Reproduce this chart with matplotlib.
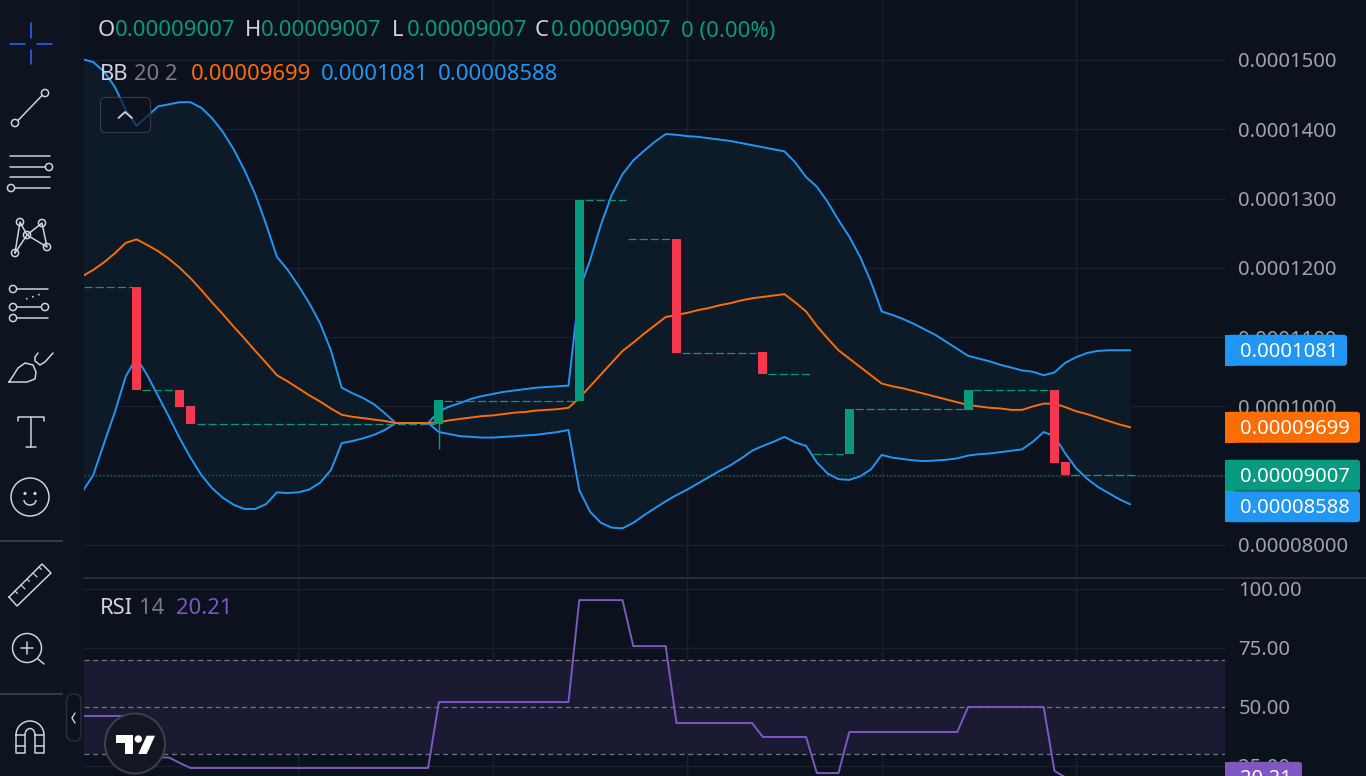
import matplotlib
matplotlib.use("Agg")
import matplotlib.pyplot as plt
from matplotlib.patches import Circle, FancyBboxPatch, Polygon, Rectangle, Arc

plt.rcParams['font.family'] = ['Noto Sans', 'DejaVu Sans']

W, H = 1366, 776
BG = '#0b111d'
TOOLBAR_BG = '#0c1420'
GRID = '#1a212d'
BAND_FILL = '#0d1a28'
RSI_FILL = '#1a1b32'
GREEN = '#089981'
RED = '#f7374b'
BLUE = '#2196f3'
ORANGE = '#ff6d00'
PURPLE = '#7e57c2'
TEXT = '#d1d4dc'
MUTED = '#787b86'
AXIS_TEXT = '#a0a3ad'
ICON = '#d1d4dc'

# prices below are in units of 0.00001
bar_index = list(range(-5, 93))

upper_band = [
    15.01, 14.97, 14.83, 14.61, 14.28, 14.05, 14.19, 14.33, 14.36, 14.39,
    14.39, 14.31, 14.16, 13.96, 13.71, 13.41, 13.06, 12.63, 12.16, 11.97,
    11.74, 11.49, 11.20, 10.81, 10.27, 10.19, 10.12, 10.03, 9.90, 9.76,
    9.76, 9.76, 9.76, 9.93, 10.00, 10.05, 10.11, 10.15, 10.18, 10.21,
    10.23, 10.25, 10.27, 10.28, 10.29, 10.30, 11.68, 12.11, 12.62, 13.05,
    13.35, 13.55, 13.69, 13.82, 13.93, 13.92, 13.90, 13.89, 13.87, 13.85,
    13.83, 13.80, 13.77, 13.74, 13.71, 13.68, 13.52, 13.31, 13.17, 12.95,
    12.69, 12.45, 12.16, 11.80, 11.37, 11.32, 11.26, 11.19, 11.11, 11.03,
    10.93, 10.83, 10.73, 10.69, 10.65, 10.60, 10.56, 10.52, 10.50, 10.45,
    10.49, 10.63, 10.71, 10.77, 10.80, 10.81, 10.81, 10.81,
]

middle_band = [
    11.88, 11.97, 12.08, 12.21, 12.36, 12.41, 12.33, 12.24, 12.13, 12.00,
    11.85, 11.68, 11.50, 11.33, 11.15, 10.98, 10.80, 10.63, 10.45, 10.36,
    10.26, 10.16, 10.07, 9.97, 9.88, 9.85, 9.83, 9.81, 9.79, 9.76,
    9.76, 9.76, 9.76, 9.77, 9.80, 9.82, 9.84, 9.86, 9.87, 9.89,
    9.91, 9.92, 9.94, 9.95, 9.96, 9.98, 10.12, 10.29, 10.46, 10.63,
    10.80, 10.92, 11.05, 11.17, 11.29, 11.32, 11.35, 11.39, 11.42, 11.46,
    11.49, 11.53, 11.56, 11.58, 11.60, 11.62, 11.50, 11.37, 11.16, 10.98,
    10.81, 10.69, 10.57, 10.45, 10.33, 10.29, 10.26, 10.22, 10.18, 10.14,
    10.10, 10.06, 10.02, 10.00, 9.98, 9.97, 9.95, 9.95, 10.00, 10.04,
    10.04, 9.99, 9.93, 9.89, 9.84, 9.79, 9.74, 9.699,
]

lower_band = [
    8.77, 9.01, 9.47, 9.92, 10.43, 10.70, 10.45, 10.15, 9.85, 9.54,
    9.26, 9.01, 8.82, 8.68, 8.58, 8.52, 8.52, 8.59, 8.76, 8.75,
    8.76, 8.80, 8.90, 9.08, 9.47, 9.50, 9.54, 9.59, 9.66, 9.76,
    9.76, 9.76, 9.76, 9.63, 9.60, 9.57, 9.56, 9.55, 9.55, 9.56,
    9.57, 9.58, 9.59, 9.61, 9.63, 9.66, 8.79, 8.48, 8.32, 8.25,
    8.24, 8.32, 8.43, 8.53, 8.63, 8.72, 8.80, 8.89, 8.98, 9.07,
    9.15, 9.25, 9.36, 9.43, 9.49, 9.56, 9.48, 9.43, 9.19, 9.03,
    8.95, 8.94, 8.99, 9.09, 9.30, 9.26, 9.24, 9.22, 9.21, 9.22,
    9.23, 9.25, 9.29, 9.31, 9.32, 9.34, 9.36, 9.38, 9.49, 9.63,
    9.57, 9.32, 9.11, 8.96, 8.84, 8.75, 8.66, 8.588,
]

# candles that actually traded
candle_index = [0, 4, 5, 28, 41, 50, 58, 66, 77, 85, 86]
candle_open = [11.72, 10.24, 10.00, 9.75, 10.08, 12.42, 10.78, 9.31, 9.95, 10.24, 9.20]
candle_close = [10.24, 9.99, 9.75, 10.09, 12.98, 10.77, 10.47, 9.96, 10.24, 9.18, 9.007]

wick_index = [28]
wick_low = [9.38]
wick_high = [10.09]

# dashed close-to-open connectors: start bar, end bar, price
connector_start = [-4.86, 0.5, 5.6, 28.5, 41.5, 45.5, 50.5, 58.5, 62.6, 66.5, 77.5, 86.5]
connector_end = [-0.4, 3.5, 27.6, 40.5, 45.3, 49.4, 57.4, 62.4, 65.5, 76.5, 84.5, 92.4]
connector_price = [11.72, 10.24, 9.75, 10.08, 12.98, 12.42, 10.77, 10.47, 9.31, 9.96, 10.24, 9.007]

last_price = 9.007

price_ticks = [8, 9, 10, 11, 12, 13, 14, 15]
price_labels = ['0.00008000', '0.00009000', '0.0001000', '0.0001100',
                '0.0001200', '0.0001300', '0.0001400', '0.0001500']

rsi_index = [-5, -1, 0, 3, 4, 5, 27, 28, 40, 41, 45, 46, 49, 50, 57, 58, 62, 63, 65, 66, 76, 77, 84, 85, 86]
rsi_values = [46.2, 46.2, 28.6, 28.6, 26.3, 24.15, 24.15, 52.1, 52.1, 95.3, 95.3, 75.8, 75.8,
              43.2, 43.2, 37.3, 37.3, 22.0, 22.0, 39.4, 39.4, 50.0, 50.0, 22.9, 20.21]
rsi_ticks = [25, 50, 75, 100]
rsi_tick_labels = ['25.00', '50.00', '75.00', '100.00']
rsi_levels = [30, 50, 70]

grid_bars = [15, 33, 51, 69, 87]

fig = plt.figure(figsize=(W / 100, H / 100), dpi=100, facecolor=BG)

ax = fig.add_axes([84 / W, 199 / H, 1141 / W, 577 / H], facecolor=BG)
rsi = fig.add_axes([84 / W, 0, 1141 / W, 198 / H], facecolor=BG)
ui = fig.add_axes([0, 0, 1, 1], zorder=10)
ui.set_xlim(0, W)
ui.set_ylim(H, 0)
ui.axis('off')

# price pane
ax.set_xlim(-4.861, 100.79)
ax.set_ylim(7.538, 15.865)
ax.fill_between(bar_index, lower_band, upper_band, color=BAND_FILL, lw=0, zorder=1)
ax.plot(bar_index, upper_band, color=BLUE, lw=1.4, zorder=3)
ax.plot(bar_index, lower_band, color=BLUE, lw=1.4, zorder=3)
ax.plot(bar_index, middle_band, color=ORANGE, lw=1.4, zorder=3)
ax.axhline(last_price, color=GREEN, lw=0.9, ls=(0, (1, 2)), alpha=0.8, zorder=2)

ax.hlines(connector_price, connector_start, connector_end, color=GREEN, lw=0.9,
          linestyles=(0, (6.5, 2.4)), zorder=4)
ax.vlines(wick_index, wick_low, wick_high, color=GREEN, lw=1.0, zorder=4)
for i, o, c in zip(candle_index, candle_open, candle_close):
    ax.bar(i, abs(c - o), bottom=min(o, c), width=0.83, lw=0,
           color=GREEN if c >= o else RED, zorder=5)

ax.set_yticks(price_ticks)
ax.set_yticklabels(price_labels)

# rsi pane
rsi.set_xlim(-4.861, 100.79)
rsi.set_ylim(20.76, 104.66)
rsi.axhspan(30, 70, color=RSI_FILL, lw=0, zorder=1)
for level in rsi_levels:
    rsi.axhline(level, color='#6f7480', lw=0.9, ls=(0, (4, 3)), zorder=2)
rsi.plot(rsi_index, rsi_values, color=PURPLE, lw=1.4, zorder=3)
rsi.set_yticks(rsi_ticks)
rsi.set_yticklabels(rsi_tick_labels)

for a in (ax, rsi):
    a.set_xticks(grid_bars)
    a.tick_params(axis='x', length=0, labelbottom=False)
    a.yaxis.tick_right()
    a.tick_params(axis='y', length=0, pad=9.5, labelsize=14.6, labelcolor=AXIS_TEXT)
    a.grid(True, color=GRID, lw=1)
    a.set_axisbelow(True)
    for s in a.spines.values():
        s.set_visible(False)

# pixel helpers for the chrome
def px(size):
    return size * 0.72


def line(xs, ys, color=ICON, lw=1.5, **kw):
    ui.plot(xs, ys, color=color, lw=px(lw), solid_capstyle='round', **kw)


def ring(x, y, r, color=ICON, lw=1.5, fill='none'):
    ui.add_patch(Circle((x, y), r, fc=fill, ec=color, lw=px(lw)))


def label(x, y, s, color=TEXT, size=22):
    ui.text(x, y + 2, s, color=color, fontsize=px(size), ha='left', va='center')


def price_tag(axes, value, s, color, x1, y_shift=0, half=15.5):
    y = H - axes.transData.transform((0, value))[1] + y_shift
    ui.add_patch(Rectangle((1225, y - half), 10, 2 * half, fc=color, lw=0))
    ui.add_patch(FancyBboxPatch((1228, y - half), x1 - 1228, 2 * half, fc=color, lw=0,
                                boxstyle='round,pad=0,rounding_size=3'))
    ui.text(1240, y + 1.5, s, color='white', fontsize=px(20.2), ha='left', va='center')


# ohlc and indicator legends
label(98, 29, 'O')
label(115, 29, '0.00009007', GREEN)
label(245, 29, 'H')
label(261, 29, '0.00009007', GREEN)
label(392, 29, 'L')
label(407, 29, '0.00009007', GREEN)
label(535, 29, 'C')
label(551, 29, '0.00009007', GREEN)
label(681, 29, '0 (0.00%)', GREEN)
label(100, 72, 'BB')
label(134, 72, '20 2', MUTED)
label(191, 72, '0.00009699', ORANGE)
label(321, 72, '0.0001081', BLUE)
label(438, 72, '0.00008588', BLUE)
label(100, 607, 'RSI')
label(139, 607, '14', MUTED)
label(176, 607, '20.21', PURPLE)

# last value tags on the price scale
price_tag(ax, 10.81, '0.0001081', BLUE, 1347)
price_tag(ax, 9.699, '0.00009699', ORANGE, 1360)
price_tag(ax, 9.007, '0.00009007', GREEN, 1360)
price_tag(ax, 8.588, '0.00008588', BLUE, 1360, y_shift=2.5)
price_tag(rsi, 20.21, '20.21', PURPLE, 1302)

# pane divider
ui.add_patch(Rectangle((84, 577), W - 84, 2, fc='#2a2e39', lw=0))

# left toolbar
ui.add_patch(Rectangle((0, 0), 84, H, fc=TOOLBAR_BG, lw=0, zorder=0))
crosshair = '#2962ff'
line([31, 31], [23, 38], crosshair, 1.6)
line([31, 31], [50, 64], crosshair, 1.6)
line([10, 25], [44, 44], crosshair, 1.6)
line([37, 52], [44, 44], crosshair, 1.6)

# trend line
line([18, 42], [120.5, 95.5])
ring(15, 123, 3.6)
ring(45, 93, 3.6)

# fib retracement
line([10, 50], [156, 156])
line([10, 45], [167, 167])
ring(49, 167, 3.6)
line([10, 50], [177, 177])
line([15, 50], [188, 188])
ring(11, 188, 3.6)

# xabcd pattern
xabcd_x = [15, 20, 27, 42, 47, 27, 15]
xabcd_y = [253, 222, 235, 223, 247, 235, 253]
line(xabcd_x, xabcd_y)
for x, y in [(20, 222), (42, 223), (27, 235), (15, 253), (47, 247)]:
    ring(x, y, 3.6, fill=TOOLBAR_BG)

# forecast
line([17, 48], [289, 289])
ring(13, 289, 3.6)
line([26, 44], [299, 293], lw=1.6, ls=(0, (1, 3)))
line([17, 41], [307, 307])
ring(13, 307, 3.6)
ring(45, 307, 3.6)
line([17, 48], [318, 318])
ring(13, 318, 3.6)

# brush
line([9, 13, 18, 25, 33, 36, 35, 27, 9], [382, 376, 368, 363, 365, 372, 379, 382, 382])
line([38, 35, 35, 40, 45, 53], [353, 357, 361, 365, 362, 353])

# text tool
line([18, 18, 44, 44], [421, 417, 417, 421])
line([31, 31], [417, 447])
line([26, 36], [447, 447])

# emoji
ring(30, 497, 19)
ui.add_patch(Circle((25, 493.5), 1.6, fc=ICON, lw=0))
ui.add_patch(Circle((35, 493.5), 1.6, fc=ICON, lw=0))
ui.add_patch(Arc((30, 500), 12, 10, theta1=0, theta2=180, ec=ICON, lw=px(1.5)))

line([0, 62], [541, 541], '#363a45', 2)

# ruler
line([9, 42, 51, 17, 9], [597, 564, 573, 606, 597])
for x0, y0, n in [(15, 591, 3), (21, 585, 5), (27, 579, 3), (33, 573, 5), (39, 567, 3)]:
    line([x0, x0 + n * 0.8], [y0, y0 + n * 0.8], lw=1.2)

# zoom
ring(27, 648, 14.5)
line([21, 33], [648, 648])
line([27, 27], [642, 654])
line([38, 44], [659, 664])

line([0, 62], [694, 694], '#363a45', 2)

# magnet
ui.add_patch(Arc((30, 735), 28, 28, theta1=180, theta2=360, ec=ICON, lw=px(1.5)))
ui.add_patch(Arc((30, 735), 10, 13, theta1=180, theta2=360, ec=ICON, lw=px(1.5)))
line([16, 16, 25, 25, 16], [735, 753, 753, 735, 735])
line([35, 35, 44, 44, 35], [735, 753, 753, 735, 735])
line([16, 25], [746, 746])
line([35, 44], [746, 746])

# toolbar collapse pill
ui.add_patch(FancyBboxPatch((66.5, 694), 14.5, 47, fc='#0b111d', ec='#2a2e39', lw=px(1.5),
                            boxstyle='round,pad=0,rounding_size=7'))
line([75, 72, 75], [713, 718, 723], lw=1.4)

# collapse legend button
ui.add_patch(FancyBboxPatch((100.5, 97.5), 50, 35, fc=(0.043, 0.067, 0.114, 0.65), ec='#363a45',
                            lw=px(1.2), boxstyle='round,pad=0,rounding_size=5'))
line([118.5, 125, 132], [118, 112, 118], lw=1.8)

# logo badge
ui.add_patch(Circle((135, 743.5), 30, fc='#131722', ec='#3c404b', lw=px(2), zorder=5))
logo_t = [(116, 735), (132.7, 735), (132.7, 754), (125, 754), (125, 742.7), (116, 742.7)]
logo_slash = [(146.7, 735.7), (155, 735.7), (146.7, 754), (138.3, 754)]
ui.add_patch(Polygon(logo_t, fc='white', lw=0, zorder=6))
ui.add_patch(Polygon(logo_slash, fc='white', lw=0, zorder=6))
ui.add_patch(Circle((138.3, 739), 3.7, fc='white', lw=0, zorder=6))

fig.savefig('out.png', dpi=100, facecolor=BG)
